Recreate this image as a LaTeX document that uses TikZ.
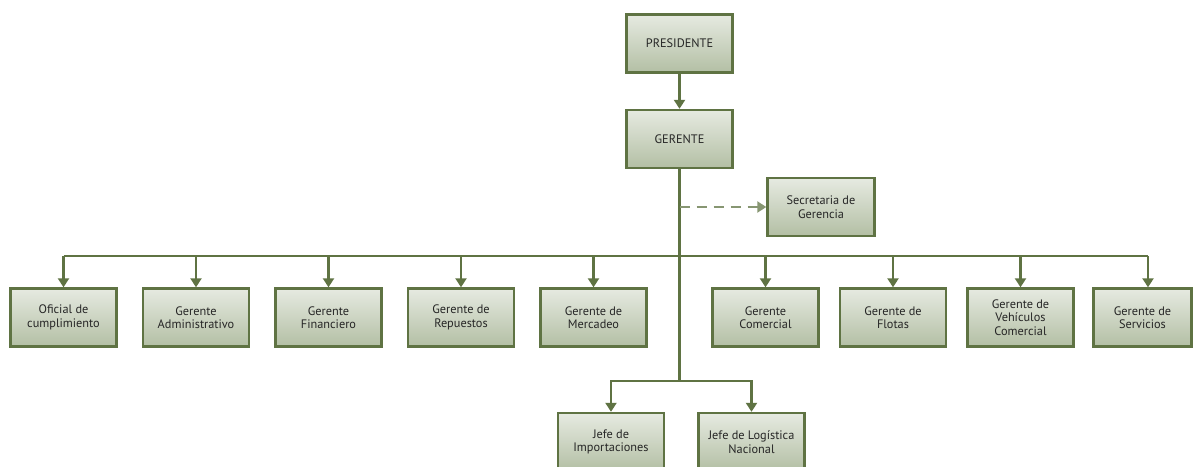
\documentclass[tikz,border=0pt]{standalone}
\usepackage{fontspec}
\setmainfont{PT Sans}
\usetikzlibrary{arrows.meta,calc}
\definecolor{lineg}{HTML}{5F7343}
\definecolor{topg}{HTML}{E6EAE1}
\definecolor{botg}{HTML}{B3BFA4}
\tikzset{
  box/.style={draw=lineg, line width=2.4pt, top color=topg, bottom color=botg,
    minimum width=106pt, minimum height=58pt, inner sep=2pt, align=center,
    font=\fontsize{12.3}{13.5}\selectfont, text=black!85},
  conn/.style={draw=lineg, line width=2.8pt},
  arr/.style={conn, -{Triangle[length=9pt,width=11pt]}},
  darr/.style={draw=lineg!75, line width=2.2pt, dash pattern=on 10pt off 7pt, -{Triangle[length=9pt,width=11pt]}},
}
\begin{document}
\begin{tikzpicture}[x=1pt,y=-1pt]
\useasboundingbox (0,0) rectangle (1193,466);
\node[box] (pres) at (679.5,43.5) {PRESIDENTE};
\node[box] (ger) at (679.5,139) {GERENTE};
\node[box, minimum width=107pt] (sec) at (821,207) {Secretaria de\\Gerencia};
\node[box] (b1) at (63.5,317.5) {Oficial de\\cumplimiento};
\node[box] (b2) at (196,317.5) {Gerente\\Administrativo};
\node[box] (b3) at (328.5,317.5) {Gerente\\Financiero};
\node[box] (b4) at (461,317.5) {Gerente de\\Repuestos};
\node[box] (b5) at (593.5,317.5) {Gerente de\\Mercadeo};
\node[box] (b6) at (765.5,317.5) {Gerente\\Comercial};
\node[box] (b7) at (893,317.5) {Gerente de\\Flotas};
\node[box] (b8) at (1020.5,317.5) {Gerente de\\Vehículos\\Comercial};
\node[box, minimum width=98pt] (b9) at (1142.5,317.5) {Gerente de\\Servicios};
\node[box] (j1) at (611,442) {Jefe de\\Importaciones};
\node[box] (j2) at (751.5,442) {Jefe de Logística\\Nacional};
\coordinate (split) at (679.5,381);
\coordinate (busl) at (63.5,256);
\coordinate (busr) at (1148,256);
\coordinate (dsh) at (679.5,207);
\draw[arr] (pres) -- (ger);
\draw[conn] (ger.south) -- (split);
\draw[conn] (busl) -- (busr);
\draw[darr] (dsh) -- (sec.west);
\foreach \b in {b1,b2,b3,b4,b5,b6,b7,b8}
  \draw[arr] (\b.north |- busl) -- (\b.north);
\draw[arr] (busr) -- (busr |- b9.north);
\draw[arr] (split) -| (j1.north);
\draw[arr] (split) -| (j2.north);
\end{tikzpicture}
\end{document}
